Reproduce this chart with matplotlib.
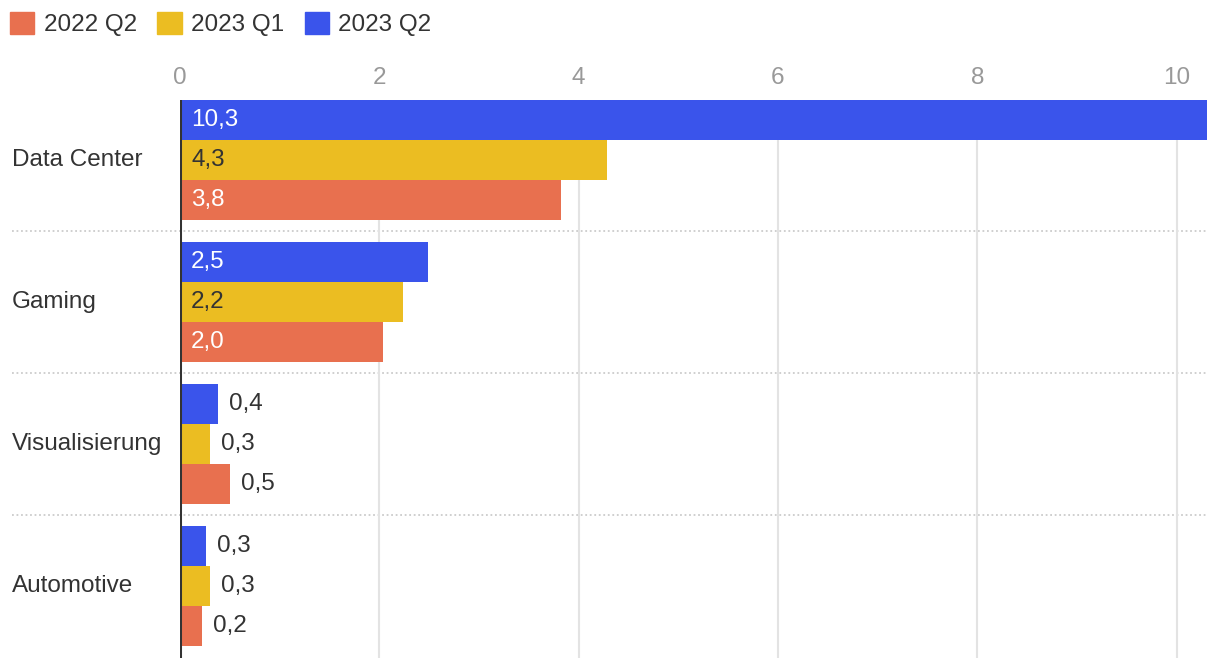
import numpy as np
import matplotlib.pyplot as plt
from matplotlib.patches import Patch

plt.rcParams['font.family'] = ['Liberation Sans', 'DejaVu Sans']

# Data (bar lengths; labels show one decimal)
categories = ['Data Center', 'Gaming', 'Visualisierung', 'Automotive']
series = ['2022 Q2', '2023 Q1', '2023 Q2']
q2_2022 = [3.82, 2.04, 0.50, 0.22]
q1_2023 = [4.28, 2.24, 0.30, 0.30]
q2_2023 = [10.3, 2.49, 0.38, 0.26]
xticks = [0, 2, 4, 6, 8, 10]

colors = ['#E8704F', '#EBBD22', '#3A54EB']
inside_text = ['white', '#333333', 'white']
dark = '#333333'
fs = 17.5

W, H = 1220, 658
fig = plt.figure(figsize=(W / 100, H / 100), dpi=100)
ax = fig.add_axes([180 / W, 0, (1206.5 - 180) / W, (H - 100) / H])

y = np.arange(len(categories))
h = 40 / 142
offsets = [h, 0, -h]   # red at bottom, blue at top (axis inverted)
values = [q2_2022, q1_2023, q2_2023]

for vals, off, c, tc in zip(values, offsets, colors, inside_text):
    bars = ax.barh(y + off, vals, height=h, color=c, linewidth=0, zorder=2)
    for b, v in zip(bars, vals):
        lab = f'{v:.1f}'.replace('.', ',')
        yc = b.get_y() + b.get_height() / 2
        if v >= 1:
            ax.annotate(lab, (0, yc), xytext=(8, 0), textcoords='offset points',
                        ha='left', va='center', color=tc, fontsize=fs, zorder=3)
        else:
            ax.annotate(lab, (v, yc), xytext=(8, 0), textcoords='offset points',
                        ha='left', va='center', color=dark, fontsize=fs, zorder=3)

ax.set_xlim(0, 10.3)
ax.set_ylim(3 + 72 / 142, -60 / 142)

ax.xaxis.tick_top()
ax.set_xticks(xticks)
ax.set_xticklabels([str(t) for t in xticks])
ax.tick_params(axis='x', length=0, pad=8, labelsize=fs, labelcolor='#999999')
ax.set_yticks([])
ax.grid(axis='x', color='#e3e3e3', linewidth=1.5, zorder=0)
for s in ax.spines.values():
    s.set_visible(False)
ax.axvline(0, color=dark, linewidth=2.2, zorder=4)

# separators between groups
x0 = (12 - 180) / (1206.5 - 180)
for i in range(len(categories) - 1):
    ax.axhline(i + 0.5, xmin=x0, xmax=1.0, color='#cccccc', linewidth=1.3,
               linestyle=(0, (1, 1.5)), clip_on=False, zorder=1)

# category labels
for i, cat in enumerate(categories):
    ax.text(x0, i, cat, transform=ax.get_yaxis_transform(), ha='left',
            va='center', fontsize=fs, color=dark)

handles = [Patch(color=c) for c in colors]
fig.legend(handles, series, loc='upper left', bbox_to_anchor=(10 / W, 1 - 12 / H),
           ncol=3, frameon=False, fontsize=fs, handlelength=1.0, handleheight=1.0,
           handletextpad=0.38, columnspacing=0.85, borderpad=0, borderaxespad=0,
           labelcolor=dark)

fig.savefig('out.png', dpi=100)
